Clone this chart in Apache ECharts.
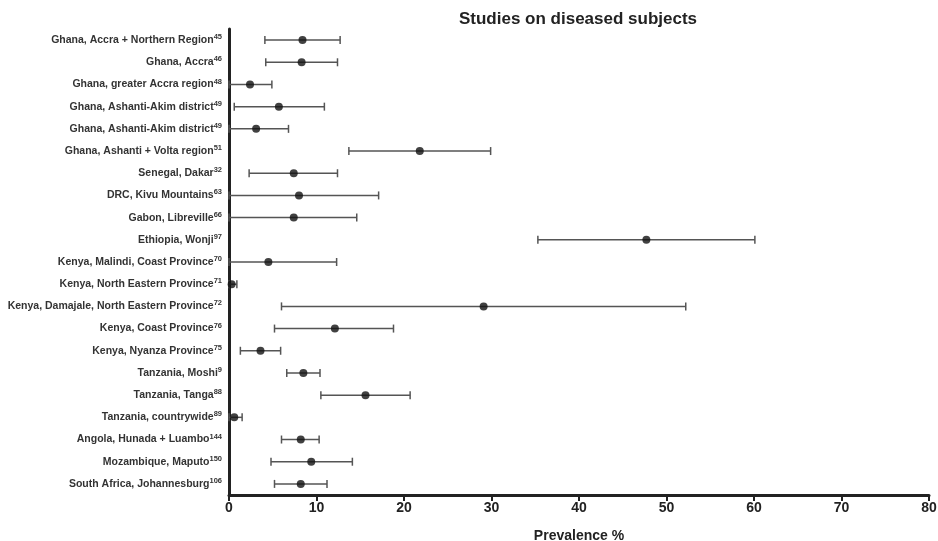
<!DOCTYPE html>
<html>
<head>
<meta charset="utf-8">
<script src="https://cdn.jsdelivr.net/npm/echarts@6/dist/echarts.min.js"></script>
<style>
  html, body { margin: 0; padding: 0; background: #fff; }
  #chart { width: 938px; height: 541px; }
</style>
</head>
<body>
<div id="chart"></div>
<script>
let studies = [
  'Ghana, Accra + Northern Region',
  'Ghana, Accra',
  'Ghana, greater Accra region',
  'Ghana, Ashanti-Akim district',
  'Ghana, Ashanti-Akim district',
  'Ghana, Ashanti + Volta region',
  'Senegal, Dakar',
  'DRC, Kivu Mountains',
  'Gabon, Libreville',
  'Ethiopia, Wonji',
  'Kenya, Malindi, Coast Province',
  'Kenya, North Eastern Province',
  'Kenya, Damajale, North Eastern Province',
  'Kenya, Coast Province',
  'Kenya, Nyanza Province',
  'Tanzania, Moshi',
  'Tanzania, Tanga',
  'Tanzania, countrywide',
  'Angola, Hunada + Luambo',
  'Mozambique, Maputo',
  'South Africa, Johannesburg'
];
let refs = ['45', '46', '48', '49', '49', '51', '32', '63', '66', '97', '70',
            '71', '72', '76', '75', '9', '88', '89', '144', '150', '106'];

let prevalence = [8.4, 8.3, 2.4, 5.7, 3.1, 21.8, 7.4, 8.0, 7.4, 47.7, 4.5,
                  0.3, 29.1, 12.1, 3.6, 8.5, 15.6, 0.6, 8.2, 9.4, 8.2];
let lower = [4.1, 4.2, 0, 0.6, 0, 13.7, 2.3, 0, 0, 35.3, 0,
             0, 6.0, 5.2, 1.3, 6.6, 10.5, 0, 6.0, 4.8, 5.2];
let upper = [12.7, 12.4, 4.9, 10.9, 6.8, 29.9, 12.4, 17.1, 14.6, 60.1, 12.3,
             0.9, 52.2, 18.8, 5.9, 10.4, 20.7, 1.5, 10.3, 14.1, 11.2];

let xTicks = [0, 10, 20, 30, 40, 50, 60, 70, 80];

let chart = echarts.init(document.getElementById('chart'));

let labelOf = {};
studies.forEach((s, i) => { labelOf[i] = {name: s, ref: refs[i]}; });

let option = {
  animation: false,
  title: {
    text: 'Studies on diseased subjects',
    left: 573,
    top: 6,
    textAlign: 'center',
    textStyle: {
      fontFamily: 'Liberation Sans, Arial, sans-serif',
      fontSize: 17,
      fontWeight: 'bold',
      color: '#222'
    }
  },
  grid: {
    left: 229,
    right: 9,
    top: 29,
    bottom: 46,
    outerBoundsMode: 'none'
  },
  xAxis: {
    type: 'value',
    min: xTicks[0],
    max: xTicks[xTicks.length - 1],
    interval: 10,
    name: 'Prevalence %',
    nameLocation: 'middle',
    nameGap: 34,
    nameTextStyle: {
      fontFamily: 'Liberation Sans, Arial, sans-serif',
      fontSize: 14,
      fontWeight: 'bold',
      color: '#222'
    },
    axisLine: {show: true, lineStyle: {color: '#222', width: 3}},
    axisTick: {show: true, length: 6, lineStyle: {color: '#222', width: 2}},
    axisLabel: {
      margin: 6,
      fontFamily: 'Liberation Sans Narrow, Liberation Sans, Arial, sans-serif',
      fontSize: 14,
      fontWeight: 'bold',
      color: '#222'
    },
    splitLine: {show: false}
  },
  yAxis: {
    type: 'category',
    inverse: true,
    data: studies.map((s, i) => i),
    axisLine: {show: true, onZero: false, lineStyle: {color: '#222', width: 3}},
    axisTick: {show: false},
    axisLabel: {
      margin: 7,
      formatter: (v) => '{t|' + labelOf[v].name + '}{s|' + labelOf[v].ref + '}',
      rich: {
        t: {
          fontFamily: 'Liberation Sans, Arial, sans-serif',
          fontSize: 10.5,
          fontWeight: 'bold',
          color: '#333',
          lineHeight: 14
        },
        s: {
          fontFamily: 'Liberation Sans, Arial, sans-serif',
          fontSize: 7.5,
          fontWeight: 'bold',
          color: '#333',
          verticalAlign: 'top',
          lineHeight: 14
        }
      }
    },
    splitLine: {show: false}
  },
  series: [
    {
      // 95% CI whiskers
      type: 'custom',
      encode: {x: [0, 1], y: 2},
      data: lower.map((lo, i) => [lo, upper[i], i]),
      z: 3,
      renderItem: (params, api) => {
        let row = api.value(2);
        let a = api.coord([api.value(0), row]);
        let b = api.coord([api.value(1), row]);
        let cap = 4;
        let style = {stroke: '#555', lineWidth: 1.5};
        return {
          type: 'group',
          children: [
            {type: 'line', shape: {x1: a[0], y1: a[1], x2: b[0], y2: b[1]}, style: style},
            {type: 'line', shape: {x1: a[0], y1: a[1] - cap, x2: a[0], y2: a[1] + cap}, style: style},
            {type: 'line', shape: {x1: b[0], y1: b[1] - cap, x2: b[0], y2: b[1] + cap}, style: style}
          ]
        };
      }
    },
    {
      type: 'scatter',
      data: prevalence.map((p, i) => [p, i]),
      symbol: 'circle',
      symbolSize: 8,
      z: 4,
      itemStyle: {color: '#111'}
    }
  ]
};

chart.setOption(option);
</script>
</body>
</html>
